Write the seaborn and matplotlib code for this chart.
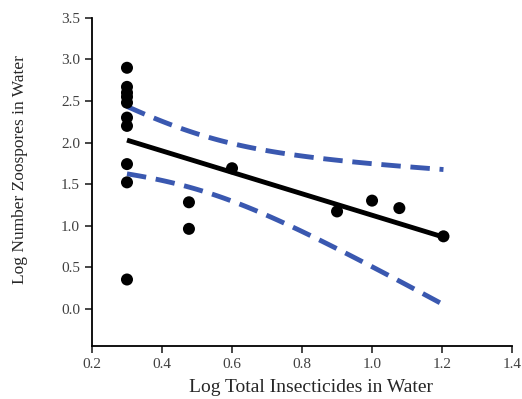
import numpy as np
import pandas as pd
import matplotlib
matplotlib.use("Agg")
import matplotlib.pyplot as plt
import seaborn as sns

# data
log_insecticides = [0.30, 0.30, 0.30, 0.30, 0.30, 0.30, 0.30, 0.30, 0.30, 0.30,
                    0.477, 0.477, 0.60, 0.90, 1.00, 1.078, 1.204]
log_zoospores = [2.90, 2.67, 2.60, 2.55, 2.48, 2.30, 2.20, 1.74, 1.52, 0.35,
                 1.28, 0.96, 1.69, 1.17, 1.30, 1.21, 0.87]
x_ticks = [0.2, 0.4, 0.6, 0.8, 1.0, 1.2, 1.4]
y_ticks = [0.0, 0.5, 1.0, 1.5, 2.0, 2.5, 3.0, 3.5]

df = pd.DataFrame({'x': log_insecticides, 'y': log_zoospores})

sns.set_style("white")
plt.rcParams['font.family'] = ['Liberation Serif', 'DejaVu Serif']

fig = plt.figure(figsize=(5.22, 3.99), dpi=100)
ax = fig.add_axes([0.1762, 0.133, 0.8048, 0.822])

# points + fitted line
sns.regplot(data=df, x='x', y='y', ax=ax, ci=None, color='black',
            scatter_kws={'s': 75, 'alpha': 1, 'edgecolor': 'none', 'zorder': 3},
            line_kws={'lw': 3.5, 'solid_capstyle': 'butt'})

# 95% confidence band of the mean (dashed lines)
x = df['x'].to_numpy()
y = df['y'].to_numpy()
n = len(x)
b, a = np.polyfit(x, y, 1)
resid = y - (a + b * x)
s = np.sqrt(np.sum(resid ** 2) / (n - 2))
sxx = np.sum((x - x.mean()) ** 2)
t = 2.131  # t(0.975, 15)
xs = np.linspace(x.min(), x.max(), 100)
half = t * s * np.sqrt(1 / n + (xs - x.mean()) ** 2 / sxx)
band = pd.DataFrame({'x': xs, 'upper': a + b * xs + half, 'lower': a + b * xs - half})
for col in ['upper', 'lower']:
    sns.lineplot(data=band, x='x', y=col, ax=ax, color='#3a58b0', lw=3.5,
                 linestyle=(0, (4, 2)))

ax.set_xlim(0.2, 1.4)
ax.set_ylim(-0.45, 3.5)
ax.set_xticks(x_ticks)
ax.set_yticks(y_ticks)
ax.set_xticklabels([f'{v:.1f}' for v in x_ticks])
ax.set_yticklabels([f'{v:.1f}' for v in y_ticks])
ax.tick_params(axis='both', direction='out', length=5, width=1.2, labelsize=11,
               labelcolor='#404040', left=True, bottom=True)
ax.set_xlabel('Log Total Insecticides in Water', fontsize=14)
ax.set_ylabel('Log Number Zoospores in Water', fontsize=12.5)
ax.xaxis.set_label_coords(0.521, -0.1)
ax.xaxis.label.set_va('top')
ax.yaxis.set_label_coords(-0.153, 0.537)
for side in ['top', 'right']:
    ax.spines[side].set_visible(False)
for side in ['left', 'bottom']:
    ax.spines[side].set_linewidth(1.3)
    ax.spines[side].set_color('black')

fig.savefig('out.png', dpi=100)
